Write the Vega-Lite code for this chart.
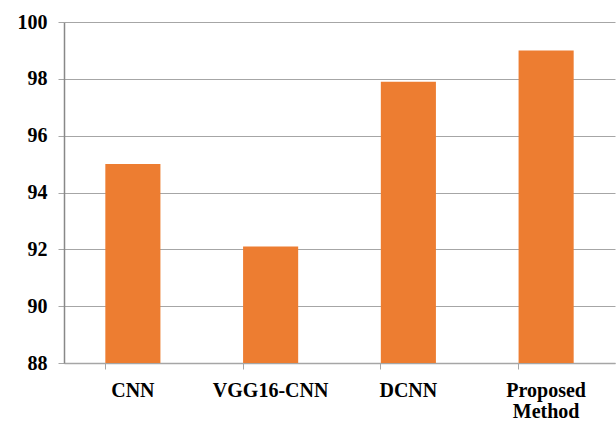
{
  "$schema": "https://vega.github.io/schema/vega-lite/v6.json",
  "autosize": {"type": "none"},
  "padding": {"left": 64, "top": 22, "right": 1, "bottom": 59},
  "width": 551,
  "height": 341,
  "background": "white",
  "data": {
    "values": [
      {"method": "CNN", "accuracy": 95.0},
      {"method": "VGG16-CNN", "accuracy": 92.1},
      {"method": "DCNN", "accuracy": 97.9},
      {"method": "Proposed Method", "accuracy": 99.0}
    ]
  },
  "mark": {"type": "bar", "color": "#ED7D31", "clip": true},
  "encoding": {
    "x": {
      "field": "method",
      "type": "nominal",
      "sort": null,
      "scale": {"paddingInner": 0.6, "paddingOuter": 0.3},
      "axis": {
        "title": null,
        "labelAngle": 0,
        "labelFont": "Liberation Serif",
        "labelFontWeight": "bold",
        "labelFontSize": 20,
        "labelColor": "black",
        "labelPadding": 11,
        "labelLineHeight": 21,
        "labelExpr": "datum.label == 'Proposed Method' ? ['Proposed', 'Method'] : datum.label",
        "bandPosition": 0,
        "tickSize": 6,
        "tickColor": "#A6A6A6",
        "domain": true,
        "domainColor": "#A6A6A6",
        "domainWidth": 1.5,
        "grid": false
      }
    },
    "y": {
      "field": "accuracy",
      "type": "quantitative",
      "scale": {"domain": [88, 100], "zero": false, "nice": false},
      "axis": {
        "title": null,
        "values": [88, 90, 92, 94, 96, 98, 100],
        "labelFont": "Liberation Serif",
        "labelFontWeight": "bold",
        "labelFontSize": 20,
        "labelColor": "black",
        "labelPadding": 11,
        "tickSize": 6,
        "tickColor": "#A6A6A6",
        "domain": true,
        "domainColor": "#888888",
        "domainWidth": 1.5,
        "gridColor": "#A6A6A6",
        "grid": true
      }
    }
  },
  "config": {"view": {"stroke": null}}
}
